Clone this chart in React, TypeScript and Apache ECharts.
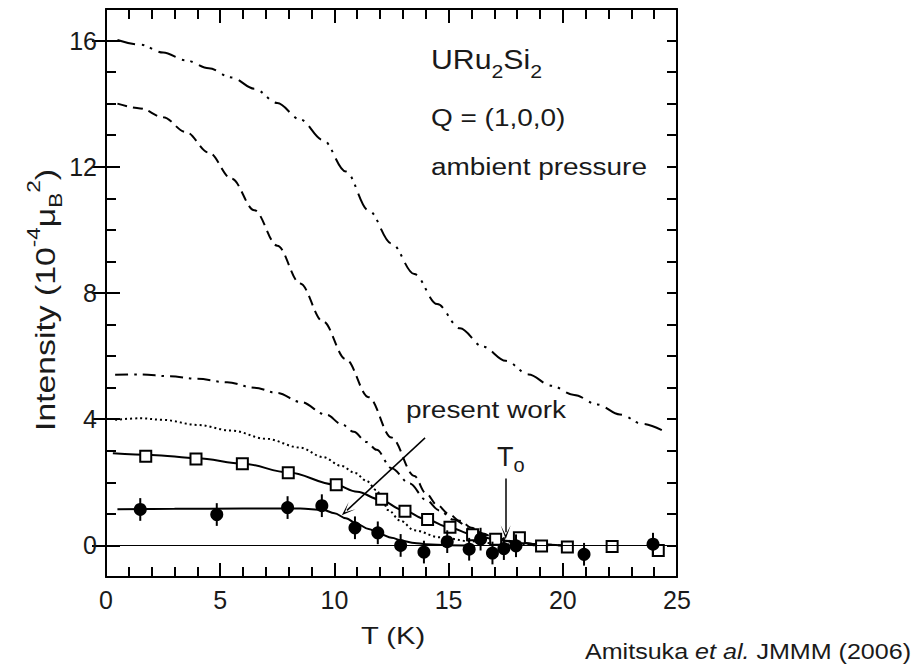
import React, { useEffect, useRef } from 'react';
import * as echarts from 'echarts';

const FONT = '"Liberation Sans", Arial, Helvetica, sans-serif';
const INK = '#1a1a1a';

// Measured intensities: open squares (earlier data) and filled circles (present work)
const squareT = [1.74, 3.94, 5.97, 7.98, 10.08, 12.07, 13.09, 14.08, 15.06, 16.05, 17.06, 18.1, 19.07, 20.2, 22.16, 24.18];
const squareI = [2.83, 2.74, 2.59, 2.3, 1.92, 1.46, 1.08, 0.82, 0.58, 0.34, 0.2, 0.24, -0.02, -0.05, -0.03, -0.16];

const circleT = [1.5, 4.85, 7.95, 9.45, 10.9, 11.9, 12.9, 13.92, 14.94, 15.9, 16.4, 16.92, 17.42, 17.95, 20.93, 23.95];
const circleI = [1.14, 0.98, 1.2, 1.26, 0.56, 0.4, 0.0, -0.21, 0.12, -0.12, 0.2, -0.24, -0.1, -0.01, -0.28, 0.04];
const circleErr = [0.36, 0.36, 0.36, 0.36, 0.36, 0.36, 0.36, 0.36, 0.36, 0.36, 0.36, 0.36, 0.36, 0.36, 0.36, 0.36];

// Solid fit lines through both data sets
const squareFitT = [0.3, 2, 4, 6, 8, 10, 11, 12, 13, 14, 15, 16, 17, 18, 19, 20];
const squareFitI = [2.92, 2.87, 2.76, 2.59, 2.31, 1.93, 1.7, 1.45, 1.12, 0.83, 0.58, 0.36, 0.2, 0.09, 0.03, 0.0];

const circleFitT = [0.5, 3, 6, 8.5, 9.5, 10, 10.5, 11, 11.5, 12, 12.5, 13, 13.5, 14, 15, 16];
const circleFitI = [1.15, 1.16, 1.17, 1.17, 1.13, 1.02, 0.86, 0.68, 0.52, 0.36, 0.24, 0.14, 0.08, 0.04, 0.01, 0.0];

// Reference curves from other measurements
const dashDotDotT = [0.5, 1.5, 2.5, 3.5, 4.5, 5.5, 6.5, 7.5, 8.5, 9.5, 10.5, 11.5, 12.5, 13.5, 14.5, 15.5, 16.5, 17.5, 18.5, 19.5, 20.5, 21.5, 22.5, 23.5, 24.6];
const dashDotDotI = [16.02, 15.87, 15.62, 15.37, 15.12, 14.83, 14.47, 14.02, 13.5, 12.85, 11.85, 10.62, 9.57, 8.6, 7.65, 6.88, 6.3, 5.85, 5.42, 5.06, 4.77, 4.47, 4.15, 3.85, 3.55];

const dashedT = [0.5, 1.5, 2.5, 3.5, 4.5, 5.5, 6.5, 7.5, 8.5, 9.5, 10.5, 11.5, 12.5, 13.5, 14.0, 14.5, 15.0, 15.5, 16.0, 16.5, 17.0, 18.0, 19.0, 20.0];
const dashedI = [14.0, 13.85, 13.57, 13.1, 12.45, 11.62, 10.62, 9.5, 8.3, 7.1, 5.9, 4.7, 3.42, 2.2, 1.66, 1.28, 1.0, 0.78, 0.56, 0.38, 0.25, 0.1, 0.03, 0.0];

const dashDotT = [0.4, 1.5, 2.8, 4.0, 5.3, 6.5, 7.5, 8.5, 9.66, 10.3, 10.85, 11.4, 11.85, 12.5, 13.3, 14.0, 14.6, 15.2, 16.1, 16.7, 17.5, 18.5, 19.5];
const dashDotI = [5.41, 5.42, 5.36, 5.28, 5.17, 5.0, 4.83, 4.55, 4.14, 3.85, 3.6, 3.28, 3.03, 2.45, 1.96, 1.45, 1.11, 0.82, 0.48, 0.32, 0.15, 0.05, 0.0];

const dottedT = [0.4, 1.5, 2.5, 4.0, 5.5, 7.0, 8.5, 9.5, 10.3, 10.9, 11.4, 11.85, 12.1, 12.35, 12.9, 13.5, 14.6, 16.0, 17.0, 18.0, 19.0];
const dottedI = [3.98, 4.03, 3.98, 3.82, 3.64, 3.38, 3.1, 2.8, 2.52, 2.3, 2.05, 1.75, 1.45, 1.12, 0.78, 0.48, 0.26, 0.13, 0.06, 0.02, 0.0];

// Axis ticks
const xTicks = [0, 5, 10, 15, 20, 25];
const yMajorTicks = [0, 4, 8, 12, 16];

// Annotation arrows: [T, I] start and end
const presentWorkArrow = [[13.97, 3.41], [10.55, 1.11]];
const toArrow = [[17.5, 2.12], [17.5, 0.42]];

const zip = (a: number[], b: number[]) => a.map((v, i) => [v, b[i]]);

const ARROW = 'path://M5,0 L10,13 L5,4 L0,13 Z';

export default function App() {
  const ref = useRef<HTMLDivElement>(null);

  useEffect(() => {
    if (!ref.current) return;
    const chart = echarts.init(ref.current, undefined, { renderer: 'svg' });

    const axisLine = { show: true, onZero: false, lineStyle: { color: '#000', width: 2 } };
    const tickStyle = { color: '#000', width: 2 };
    const labelStyle = { fontSize: 25, color: INK, fontFamily: FONT };

    const xBase = {
      type: 'value',
      min: xTicks[0],
      max: xTicks[xTicks.length - 1],
      interval: xTicks[1] - xTicks[0],
      axisLine,
      splitLine: { show: false },
      axisTick: { inside: true, length: 14, lineStyle: tickStyle },
      minorTick: { show: true, splitNumber: 5, length: 10, lineStyle: tickStyle },
    };
    const yMinor = {
      type: 'value',
      min: -1,
      max: 17,
      interval: 1,
      axisLine,
      splitLine: { show: false },
      axisTick: { inside: true, length: 10, lineStyle: tickStyle },
    };
    const yMajor = {
      type: 'value',
      min: -1,
      max: 17,
      interval: 1,
      axisLine: { show: false },
      splitLine: { show: false },
      axisLabel: { show: false },
      axisTick: { inside: true, length: 14, lineStyle: tickStyle, customValues: yMajorTicks },
    };

    const curve = (name: string, t: number[], v: number[], dash: any, width = 2) => ({
      name,
      type: 'line',
      data: zip(t, v),
      showSymbol: false,
      symbol: 'none',
      smooth: 0.35,
      smoothMonotone: 'x',
      lineStyle: { color: '#000', width, type: dash },
      z: 2,
      silent: true,
    });

    const arrowLine = (seg: number[][]) => [
      { coord: seg[0], symbol: 'none' },
      { coord: seg[1], symbol: ARROW, symbolSize: [10, 14] },
    ];

    const textBase = { fontFamily: FONT, fill: INK, verticalAlign: 'middle', textVerticalAlign: 'middle' };

    chart.setOption({
      animation: false,
      backgroundColor: '#fff',
      grid: { left: 106, right: 239, top: 9, bottom: 95, containLabel: false },
      xAxis: [
        { ...xBase, position: 'bottom', axisLabel: { ...labelStyle, margin: 10 } },
        { ...xBase, position: 'top', axisLabel: { show: false } },
      ],
      yAxis: [
        {
          ...yMinor,
          position: 'left',
          axisLabel: {
            ...labelStyle,
            margin: 9,
            formatter: (v: number) => (yMajorTicks.indexOf(v) >= 0 ? String(v) : ''),
          },
        },
        { ...yMinor, position: 'right', axisLabel: { show: false } },
        { ...yMajor, position: 'left' },
        { ...yMajor, position: 'right' },
      ],
      series: [
        curve('dashDotDot', dashDotDotT, dashDotDotI, [18, 7, 2.5, 6, 2.5, 7]),
        curve('dashed', dashedT, dashedI, [10, 6]),
        curve('dashDot', dashDotT, dashDotI, [13, 6, 2.5, 6]),
        curve('dotted', dottedT, dottedI, [2, 3]),
        {
          ...curve('squareFit', squareFitT, squareFitI, 'solid'),
          markLine: {
            silent: true,
            symbol: ['none', 'none'],
            label: { show: false },
            lineStyle: { color: '#000', width: 1.5, type: 'solid' },
            data: [
              [
                { xAxis: xTicks[0], yAxis: 0, symbol: 'none' },
                { xAxis: xTicks[xTicks.length - 1], yAxis: 0, symbol: 'none', lineStyle: { width: 1.2 } },
              ],
              arrowLine(presentWorkArrow),
              arrowLine(toArrow),
            ],
          },
        },
        curve('circleFit', circleFitT, circleFitI, 'solid'),
        {
          name: 'squares',
          type: 'scatter',
          data: zip(squareT, squareI),
          symbol: 'rect',
          symbolSize: 11,
          itemStyle: { color: '#fff', borderColor: '#000', borderWidth: 2, opacity: 1 },
          z: 4,
          silent: true,
        },
        {
          name: 'errors',
          type: 'custom',
          data: circleT.map((t, i) => [t, circleI[i], circleErr[i]]),
          renderItem: (_params: any, api: any) => {
            const t = api.value(0);
            const v = api.value(1);
            const e = api.value(2);
            const p1 = api.coord([t, v - e]);
            const p2 = api.coord([t, v + e]);
            return {
              type: 'line',
              shape: { x1: p1[0], y1: p1[1], x2: p2[0], y2: p2[1] },
              style: { stroke: '#000', lineWidth: 2 },
            };
          },
          z: 5,
          silent: true,
        },
        {
          name: 'circles',
          type: 'scatter',
          data: zip(circleT, circleI),
          symbol: 'circle',
          symbolSize: 13,
          itemStyle: { color: '#000', opacity: 1 },
          z: 6,
          silent: true,
        },
      ],
      graphic: [
        {
          type: 'text',
          x: 45,
          y: 300,
          rotation: Math.PI / 2,
          scaleX: 1.25,
          silent: true,
          style: {
            ...textBase,
            text: 'Intensity (10{sup|-4}μ{sub|B}{sup|2})',
            fontSize: 27,
            align: 'center',
            textAlign: 'center',
            lineHeight: 40,
            rich: {
              sup: { fontSize: 18, lineHeight: 18, verticalAlign: 'top', fontFamily: FONT, fill: INK },
              sub: { fontSize: 18, lineHeight: 27, verticalAlign: 'bottom', fontFamily: FONT, fill: INK },
            },
          },
        },
        {
          type: 'text',
          x: 393,
          y: 636,
          scaleX: 1.19,
          silent: true,
          style: { ...textBase, text: 'T (K)', fontSize: 24.5, align: 'center', textAlign: 'center' },
        },
        {
          type: 'text',
          x: 431,
          y: 60,
          scaleX: 1.12,
          silent: true,
          style: {
            ...textBase,
            text: 'URu{s|2}Si{s|2}',
            fontSize: 27,
            lineHeight: 42,
            rich: { s: { fontSize: 19, lineHeight: 19, verticalAlign: 'bottom', fontFamily: FONT, fill: INK } },
          },
        },
        {
          type: 'text',
          x: 431,
          y: 118,
          scaleX: 1.19,
          silent: true,
          style: { ...textBase, text: 'Q = (1,0,0)', fontSize: 23.5 },
        },
        {
          type: 'text',
          x: 431,
          y: 167,
          scaleX: 1.19,
          silent: true,
          style: { ...textBase, text: 'ambient pressure', fontSize: 23.5 },
        },
        {
          type: 'text',
          x: 406,
          y: 410,
          scaleX: 1.19,
          silent: true,
          style: { ...textBase, text: 'present work', fontSize: 23.5 },
        },
        {
          type: 'text',
          x: 497,
          y: 457,
          silent: true,
          style: {
            ...textBase,
            text: 'T{o|o}',
            fontSize: 27,
            lineHeight: 36,
            rich: { o: { fontSize: 20, lineHeight: 18, verticalAlign: 'bottom', fontFamily: FONT, fill: INK } },
          },
        },
        {
          type: 'text',
          x: 585,
          y: 652,
          scaleX: 1.14,
          silent: true,
          style: {
            ...textBase,
            text: 'Amitsuka {i|et al.} JMMM (2006)',
            fontSize: 22,
            rich: { i: { fontSize: 22, fontStyle: 'italic', fontFamily: FONT, fill: INK } },
          },
        },
      ],
    });

    return () => chart.dispose();
  }, []);

  return (
    <div
      ref={ref}
      style={{ position: 'fixed', left: 0, top: 0, width: 916, height: 672, background: '#fff' }}
    />
  );
}
